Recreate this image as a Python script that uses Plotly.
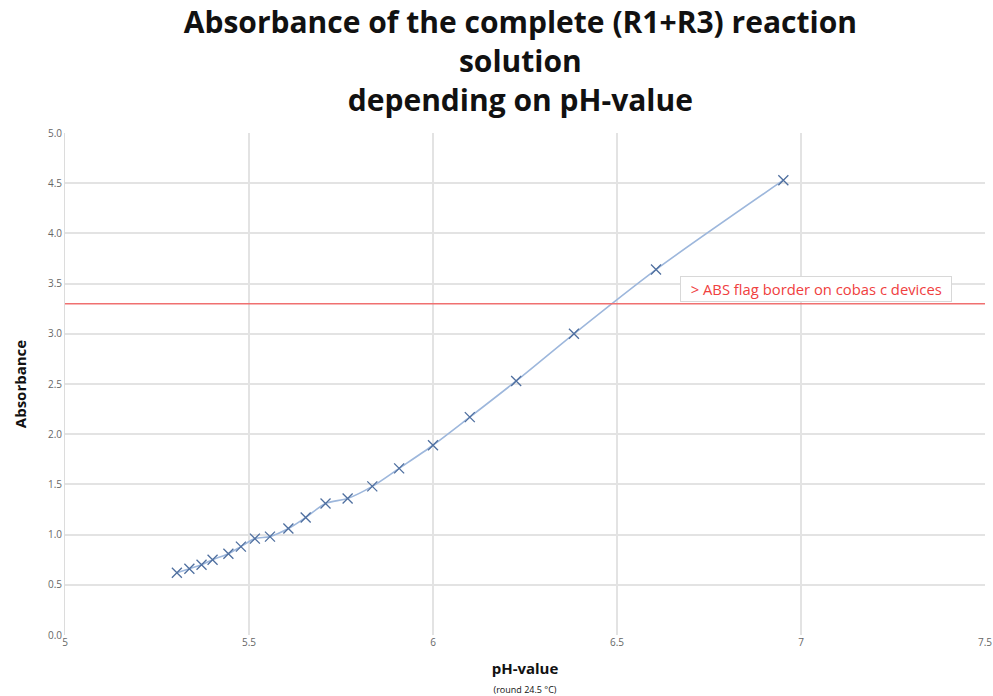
import plotly.graph_objects as go

ph_values = [5.304, 5.338, 5.371, 5.401, 5.444, 5.478, 5.516, 5.557, 5.607, 5.654,
             5.708, 5.768, 5.835, 5.908, 6.000, 6.100, 6.226, 6.383, 6.606, 6.952]
absorbance = [0.62, 0.66, 0.70, 0.75, 0.81, 0.88, 0.96, 0.98, 1.06, 1.17,
              1.31, 1.36, 1.48, 1.66, 1.89, 2.17, 2.53, 3.00, 3.64, 4.53]
flag_border = 3.3
flag_label = "> ABS flag border on cobas c devices"
x_ticks = [5, 5.5, 6, 6.5, 7, 7.5]
x_tick_labels = ["5", "5.5", "6", "6.5", "7", "7.5"]
y_ticks = [0, 0.5, 1, 1.5, 2, 2.5, 3, 3.5, 4, 4.5, 5]
y_tick_labels = ["0.0", "0.5", "1.0", "1.5", "2.0", "2.5", "3.0", "3.5", "4.0", "4.5", "5.0"]

fig = go.Figure()
fig.add_trace(go.Scatter(
    x=ph_values, y=absorbance, mode="lines+markers",
    line=dict(color="#9db7dc", width=1.6, shape="spline", smoothing=0.8),
    marker=dict(symbol="x-thin", size=10, line=dict(color="#4f6f9f", width=1.3)),
    showlegend=False,
))
fig.add_trace(go.Scatter(
    x=[5, 7.5], y=[flag_border, flag_border], mode="lines",
    line=dict(color="#f07070", width=1.5), showlegend=False,
))

fig.update_layout(
    width=993, height=696,
    margin=dict(l=65, r=8, t=133, b=61, autoexpand=False),
    paper_bgcolor="white", plot_bgcolor="white",
    font=dict(family="Open Sans", color="#222"),
    title=dict(
        text="Absorbance of the complete (R1+R3) reaction<br>solution<br>depending on pH-value",
        x=0.524, xanchor="center", y=0.953, yanchor="middle",
        font=dict(family="Open Sans", size=30, color="#111", weight="bold"),
    ),
    xaxis=dict(
        range=[5, 7.5], tickvals=x_ticks, ticktext=x_tick_labels,
        showgrid=True, gridcolor="#e3e3e3", gridwidth=1.5,
        zeroline=False, showline=False, ticks="", ticklabeloverflow="allow",
        tickfont=dict(size=10, color="#666"),
        title=dict(text="<b>pH-value</b><br><span style='font-size:9px'>(round 24.5 °C)</span>",
                   font=dict(size=15, color="#111"), standoff=18),
    ),
    yaxis=dict(
        range=[0, 5], tickvals=y_ticks, ticktext=y_tick_labels,
        showgrid=True, gridcolor="#e3e3e3", gridwidth=1.5,
        zeroline=False, showline=True, linecolor="#dcdcdc", ticks="",
        tickfont=dict(size=10, color="#666"),
        title=dict(text="<b>Absorbance</b>", font=dict(size=15, color="#111"), standoff=17),
    ),
    annotations=[dict(
        x=6.671, y=flag_border + 0.02, xref="x", yref="y", xanchor="left", yanchor="bottom",
        text="\u00a0\u00a0" + flag_label + "\u00a0\u00a0", showarrow=False,
        font=dict(size=14.8, color="#f04040"),
        bgcolor="white", bordercolor="#d8d8d8", borderwidth=1, borderpad=2,
    )],
)

fig.write_html("out.html", config={"displayModeBar": False},
               post_script="document.body.style.margin='0';")
